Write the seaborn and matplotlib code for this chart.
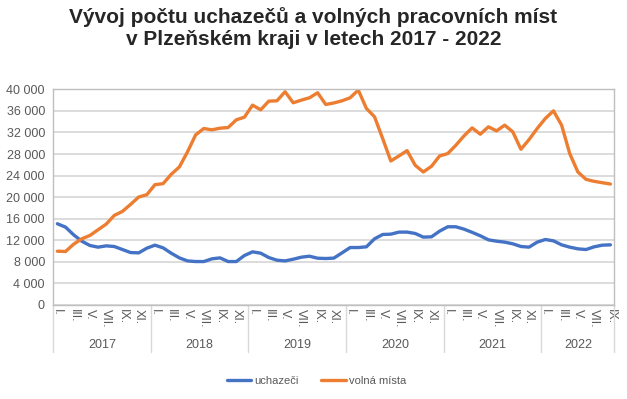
import pandas as pd
import seaborn as sns
import matplotlib.pyplot as plt
from matplotlib.lines import Line2D

# mesicni data leden 2017 - zari 2022
uchazeci = [15070, 14450, 13020, 11840, 11040, 10730, 10970, 10850, 10290, 9730, 9670, 10540,
            11100, 10600, 9610, 8740, 8180, 8060, 8060, 8560, 8740, 8060, 8060, 9180,
            9860, 9610, 8800, 8310, 8180, 8490, 8870, 9050, 8680, 8620, 8700, 9670,
            10660, 10660, 10790, 12280, 13080, 13140, 13520, 13520, 13270, 12590, 12650, 13700,
            14510, 14510, 14070, 13480, 12840, 12090, 11840, 11660, 11350, 10850, 10730, 11660,
            12150, 11900, 11160, 10730, 10420, 10290, 10790, 11100, 11160]

volna_mista = [9980, 9920, 11280, 12280, 12900, 13950, 15000, 16620, 17360, 18660, 20030, 20460,
               22320, 22510, 24240, 25610, 28400, 31550, 32740, 32490, 32800, 32920, 34350, 34840,
               37080, 36210, 37820, 37880, 39560, 37510, 38010, 38440, 39370, 37200, 37480, 37880,
               38440, 39870, 36460, 34910, 30880, 26720, 27650, 28640, 25920, 24680, 25730, 27650,
               28090, 29640, 31370, 32860, 31680, 33050, 32300, 33360, 32120, 28890, 30690, 32740,
               34600, 36020, 33360, 28090, 24680, 23310, 22940, 22690, 22440]

roky = ["2017", "2018", "2019", "2020", "2021", "2022"]
mesice = ["I.", "II.", "III.", "IV.", "V.", "VI.", "VII.", "VIII.", "IX.", "X.", "XI.", "XII."]

n = len(uchazeci)
df = pd.DataFrame({
    "mesic": list(range(n)) * 2,
    "pocet": uchazeci + volna_mista,
    "rada": ["uchazeči"] * n + ["volná místa"] * n,
})

sns.set_style("white")
plt.rcParams["font.family"] = ["Liberation Sans", "DejaVu Sans"]

seda = "#595959"
fig = plt.figure(figsize=(6.27, 3.99), dpi=100)
ax = fig.add_axes([0.085, 0.2356, 0.895, 0.5404])

sns.lineplot(data=df, x="mesic", y="pocet", hue="rada",
             palette={"uchazeči": "#4472C4", "volná místa": "#ED7D31"},
             linewidth=2.4, ax=ax, legend=False)

ax.set_xlim(-0.5, n - 0.5)
ax.set_ylim(0, 40000)
ax.set_yticks(range(0, 40001, 4000))
ax.set_yticklabels([f"{v:,}".replace(",", " ") for v in range(0, 40001, 4000)],
                   fontsize=9, color=seda)
ax.yaxis.grid(True, color="#D9D9D9", linewidth=1.3)
ax.set_axisbelow(True)

# popisky mesicu (kazdy druhy)
pozice = list(range(0, n, 2))
ax.set_xticks(pozice)
ax.set_xticklabels([mesice[i % 12] for i in pozice], rotation=-90, fontsize=9, color=seda)
ax.tick_params(axis="x", length=0, pad=3)
ax.tick_params(axis="y", length=0, pad=6)
ax.set_xlabel("")
ax.set_ylabel("")

for s in ax.spines.values():
    s.set_color("#BFBFBF")
    s.set_linewidth(1)

# hranice let a popisky roku
trans = ax.get_xaxis_transform()
hranice = [-0.5 + 12 * k for k in range(len(roky))] + [n - 0.5]
for x in hranice:
    ax.add_line(Line2D([x, x], [0, -0.218], transform=trans, color="#D9D9D9",
                       linewidth=1, clip_on=False))
for k, rok in enumerate(roky):
    stred = (hranice[k] + hranice[k + 1]) / 2
    ax.text(stred, -0.185, rok, transform=trans, ha="center", va="center",
            fontsize=9, color=seda)

# titulek ve dvou radcich
fig.text(0.5, 0.943, "Vývoj počtu uchazečů a volných pracovních míst",
         ha="center", va="baseline", fontsize=15, fontweight="bold")
fig.text(0.5, 0.887, "v Plzeňském kraji v letech 2017 - 2022",
         ha="center", va="baseline", fontsize=15, fontweight="bold")

handles = [Line2D([], [], color="#4472C4", linewidth=2.4),
           Line2D([], [], color="#ED7D31", linewidth=2.4)]
fig.legend(handles, ["uchazeči", "volná místa"], loc="center", bbox_to_anchor=(0.505, 0.045),
           ncol=2, frameon=False, fontsize=8, labelcolor=seda, handlelength=2.2,
           handletextpad=0.3, columnspacing=2.0)

fig.savefig("out.png", dpi=100)
